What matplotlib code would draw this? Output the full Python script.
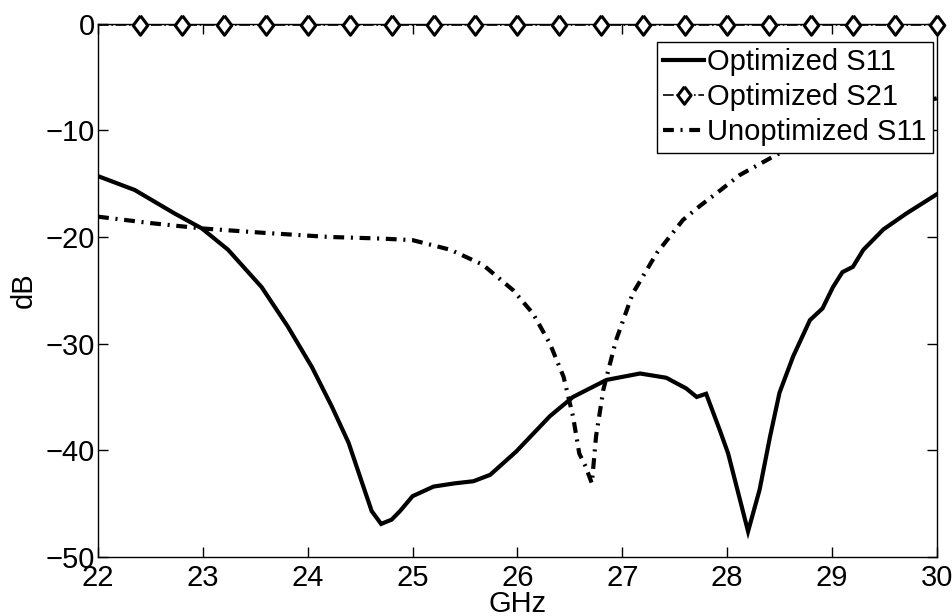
import matplotlib
matplotlib.use("Agg")
import matplotlib.pyplot as plt

plt.rcParams['font.family'] = ['Liberation Sans', 'DejaVu Sans']

# Optimized S11 (GHz, dB)
freq_opt = [22.00, 22.35, 22.73, 22.99, 23.24, 23.56, 23.81, 24.04, 24.23, 24.39,
            24.51, 24.61, 24.70, 24.80, 24.88, 25.00, 25.20, 25.40, 25.58, 25.74,
            25.99, 26.31, 26.53, 26.85, 27.17, 27.42, 27.61, 27.71, 27.80, 27.93,
            28.01, 28.20, 28.31, 28.41, 28.50, 28.63, 28.79, 28.91, 29.01, 29.10,
            29.20, 29.30, 29.49, 29.71, 30.00]
s11_opt = [-14.3, -15.6, -17.8, -19.2, -21.2, -24.7, -28.4, -32.2, -35.9, -39.3,
           -42.8, -45.7, -46.9, -46.5, -45.7, -44.3, -43.4, -43.1, -42.9, -42.3,
           -40.1, -36.8, -35.0, -33.4, -32.8, -33.2, -34.2, -35.0, -34.7, -38.1,
           -40.3, -47.6, -43.7, -38.7, -34.6, -31.2, -27.8, -26.7, -24.7, -23.3,
           -22.8, -21.2, -19.3, -17.8, -16.0]

# Optimized S21 (GHz, dB)
freq_s21 = [22.0, 22.4, 22.8, 23.2, 23.6, 24.0, 24.4, 24.8, 25.2, 25.6, 26.0,
            26.4, 26.8, 27.2, 27.6, 28.0, 28.4, 28.8, 29.2, 29.6, 30.0]
s21_opt = [-0.1, -0.1, -0.1, -0.1, -0.1, -0.1, -0.1, -0.1, -0.1, -0.1, -0.1,
           -0.1, -0.1, -0.1, -0.1, -0.1, -0.1, -0.1, -0.1, -0.1, -0.1]

# Unoptimized S11 (GHz, dB)
freq_unopt = [22.00, 22.50, 22.99, 23.56, 24.20, 24.70, 25.00, 25.36, 25.67, 25.96,
              26.15, 26.31, 26.44, 26.53, 26.59, 26.65, 26.71, 26.75, 26.82, 26.94,
              27.10, 27.33, 27.58, 27.74, 27.90, 28.12, 28.47, 28.75, 29.00, 29.50,
              30.00]
s11_unopt = [-18.1, -18.7, -19.2, -19.6, -20.0, -20.15, -20.3, -21.2, -22.6, -25.0,
             -27.2, -30.0, -33.1, -36.8, -40.3, -41.5, -43.1, -38.7, -34.3, -29.7,
             -25.3, -21.5, -18.4, -17.1, -15.9, -14.2, -12.3, -11.0, -10.0, -8.3,
             -7.0]

x_ticks = [22, 23, 24, 25, 26, 27, 28, 29, 30]
y_ticks = [0, -10, -20, -30, -40, -50]

# diamond a little taller than wide
diamond = [(0, 1), (0.75, 0), (0, -1), (-0.75, 0), (0, 1)]

fs = 21
fig = plt.figure(figsize=(9.52, 6.16), dpi=100)
ax = fig.add_axes([0.103, 0.0958, 0.881, 0.8659])

ax.plot(freq_opt, s11_opt, color='black', lw=3.0, solid_joinstyle='miter',
        label='Optimized S11', zorder=3)
ax.plot(freq_s21, s21_opt, color='black', lw=1.2, linestyle='-.',
        marker=diamond, markersize=14, markerfacecolor='white',
        markeredgecolor='black', markeredgewidth=2.2,
        markevery=slice(1, None), clip_on=False,
        label='Optimized S21', zorder=4)
ax.plot(freq_unopt, s11_unopt, color='black', lw=3.0,
        dashes=(2.6, 1.6, 0.5, 1.6), label='Unoptimized S11', zorder=3)

ax.set_xlim(22, 30)
ax.set_ylim(-50, 0)
ax.set_xticks(x_ticks)
ax.set_yticks(y_ticks)
ax.set_xticklabels([str(t) for t in x_ticks])
ax.set_yticklabels(['0' if t == 0 else '\u2212' + str(-t) for t in y_ticks])

ax.tick_params(direction='in', length=7, width=1, top=True, right=True,
               labelsize=fs, colors='black')
ax.tick_params(axis='x', pad=5)
ax.tick_params(axis='y', pad=2)
for sp in ax.spines.values():
    sp.set_linewidth(1.0)

ax.set_xlabel('GHz', fontsize=fs, labelpad=-1.5)
ax.set_ylabel('dB', fontsize=fs, labelpad=6)

leg = ax.legend(loc='upper right', bbox_to_anchor=(0.980, 0.932),
                bbox_transform=fig.transFigure, fontsize=fs, frameon=True,
                fancybox=False, framealpha=1, edgecolor='black',
                borderpad=0.22, labelspacing=0.24, handlelength=1.4,
                handletextpad=0.1, borderaxespad=0, markerscale=0.9)
leg.get_frame().set_linewidth(1.0)
leg.set_zorder(5)

fig.savefig('out.png', dpi=100)
